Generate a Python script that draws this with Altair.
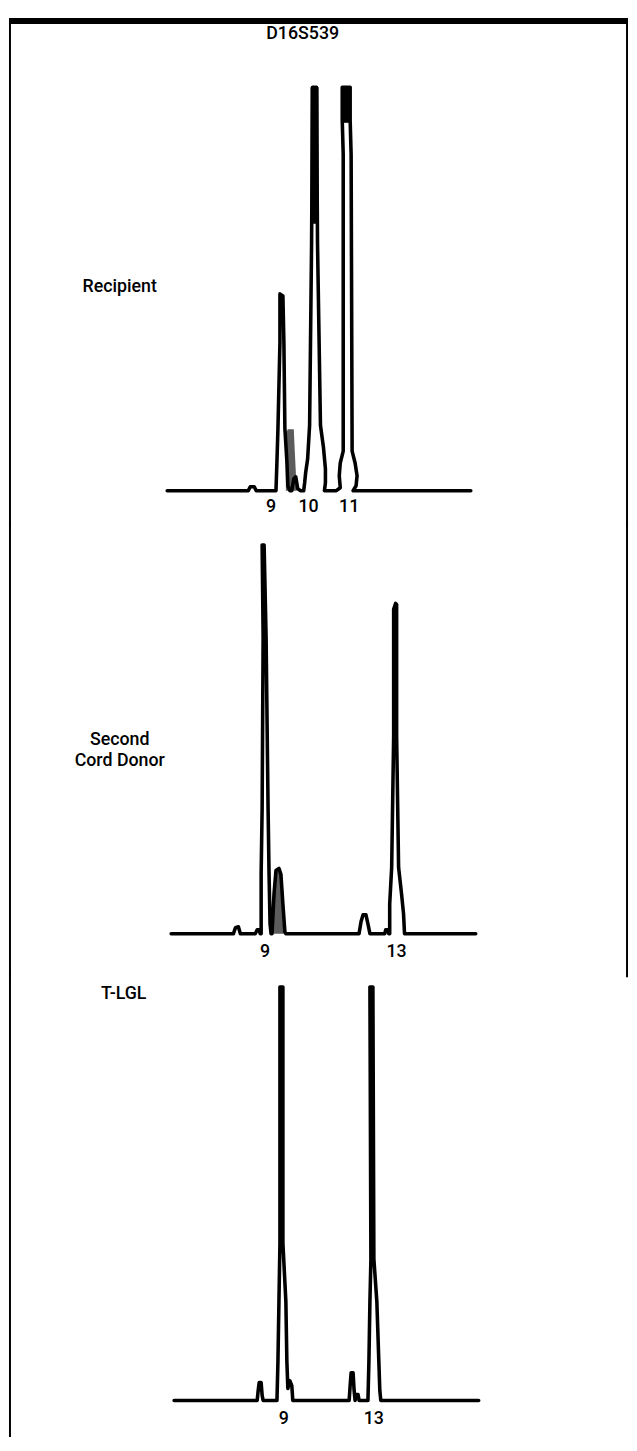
import altair as alt
import pandas as pd

FONT = "Roboto, DejaVu Sans Condensed, sans-serif"
FS = 18

# ---------------- data (x = scan position, y = signal height) ----------------
# Panel 1: Recipient
p1_x = [168, 250, 252, 256, 258,
        278, 279, 280, 282, 282, 285, 286, 287, 289, 290, 292,
        294, 296, 298, 300, 303,
        306, 307, 308, 310, 312, 314, 315, 319, 320, 323, 326, 328, 328, 327,
        339, 343, 342, 343, 346, 346, 345, 345, 353, 353, 354, 355, 358, 360, 359, 356,
        475]
p1_y = [0, 0, 4, 4, 0,
        0, 30, 63, 150, 199, 197, 150, 63, 30, 5, 0,
        0, 12, 14, 2, 0,
        0, 8, 18, 32, 66, 250, 408, 408, 250, 66, 44, 22, 8, 0,
        0, 3, 15, 28, 40, 340, 375, 408, 408, 375, 340, 40, 28, 15, 5, 0,
        0]
p1_gx = [288, 288, 290, 296, 297, 299]
p1_gy = [0, 58, 62, 62, 40, 0]
# solid (merged) upper parts of the off-scale peaks 10 and 11
p1_sx = [313, 344]
p1_sx2 = [321, 354]
p1_sy = [270, 372]
p1_sy2 = [408, 408]
p1_lab_x = [273, 311, 352]
p1_lab = ["9", "10", "11"]

# Panel 2: Second Cord Donor
p2_x = [172, 235, 237, 240, 242,
        257, 259, 261, 262,
        263, 263, 264, 265, 264, 266, 268, 270, 271, 272, 273,
        274, 276, 278, 281, 283, 285, 287, 288,
        362, 364, 366, 369, 371, 373,
        388, 389, 391, 392,
        393, 393, 395, 397, 397, 399, 400, 400, 402, 405, 407, 408,
        480]
p2_y = [0, 0, 6, 7, 0,
        0, 4, 4, 0,
        0, 60, 127, 300, 393, 393, 300, 127, 60, 10, 0,
        0, 40, 64, 66, 60, 30, 2, 0,
        0, 12, 19, 19, 10, 0,
        0, 4, 4, 0,
        0, 30, 67, 200, 328, 334, 333, 200, 67, 40, 20, 0,
        0]
p2_gx = [275, 276, 278, 281, 283, 285, 287]
p2_gy = [0, 40, 64, 66, 60, 30, 0]
p2_lab_x = [267, 400]
p2_lab = ["9", "13"]

# Panel 3: T-LGL
p3_x = [175, 259, 260, 261, 263, 264, 265,
        279, 280, 281, 282, 282, 285, 285, 288, 289, 290, 292, 294, 295,
        352, 353, 354, 356, 357, 358, 359, 361, 362,
        371, 372, 373, 374, 373, 376, 377, 380, 382, 383, 384,
        483]
p3_y = [0, 0, 10, 18, 18, 5, 0,
        0, 40, 100, 159, 418, 418, 159, 100, 40, 12, 20, 15, 0,
        0, 15, 28, 28, 10, 0, 6, 6, 0,
        0, 40, 100, 143, 418, 418, 143, 100, 40, 10, 0,
        0]
p3_lab_x = [286, 377]
p3_lab = ["9", "13"]

TITLE = "D16S539"
NAMES = [["Recipient"], ["Second", "Cord Donor"], ["T-LGL"]]

W = 626
XDOM = [8, 634]


def panel(tx, ty, gx, gy, lab_x, lab, name, name_pos, height, ydom,
          lab_off, top_bar=False, right_border=True, solid=None,
          ext_top=3, ext_bot=3):
    xs = alt.Scale(domain=XDOM)
    ys = alt.Scale(domain=ydom)
    X = alt.X("x:Q", scale=xs, axis=None)
    trace = pd.DataFrame({"x": tx, "y": ty, "i": list(range(len(tx)))})
    nm = pd.DataFrame({"t": ["a"]})
    layers = [
        alt.Chart(nm).mark_rule(color="black", strokeWidth=2).encode(
            x=alt.value(1), y=alt.value(-ext_top), y2=alt.value(height + ext_bot)
        )
    ]
    if right_border:
        layers.append(
            alt.Chart(nm).mark_rule(color="black", strokeWidth=2).encode(
                x=alt.value(W - 1), y=alt.value(-ext_top),
                y2=alt.value(height + ext_bot)
            )
        )
    if gx:
        gray = pd.DataFrame({"x": gx, "y": gy})
        layers.append(
            alt.Chart(gray).mark_area(color="#5c5c5c", opacity=1).encode(
                x=X, y=alt.Y("y:Q", scale=ys, axis=None), y2=alt.datum(0),
            )
        )
    if solid:
        sd = pd.DataFrame({"x": solid[0], "x2": solid[1],
                           "y": solid[2], "y2": solid[3]})
        layers.append(
            alt.Chart(sd).mark_rect(color="black").encode(
                x=X, x2="x2:Q", y=alt.Y("y:Q", scale=ys, axis=None), y2="y2:Q",
            )
        )
    layers.append(
        alt.Chart(trace).mark_line(color="black", strokeWidth=3.6,
                                   strokeJoin="round", strokeCap="round").encode(
            x=X, y=alt.Y("y:Q", scale=ys, axis=None), order="i:Q",
        )
    )
    labs = pd.DataFrame({"x": lab_x, "t": lab})
    layers.append(
        alt.Chart(labs).mark_text(font=FONT, fontSize=FS, fontWeight=500,
                                  color="black", baseline="middle",
                                  align="center").encode(
            x=X, y=alt.Y(datum=lab_off, scale=ys, axis=None), text="t:N",
        )
    )
    layers.append(
        alt.Chart(nm).mark_text(font=FONT, fontSize=FS, fontWeight=500,
                                color="black", baseline="middle",
                                align="center", lineHeight=21,
                                text=name).encode(
            x=alt.value(name_pos[0]), y=alt.value(name_pos[1])
        )
    )
    if top_bar:
        layers.append(
            alt.Chart(nm).mark_rect(color="black").encode(
                x=alt.value(0), x2=alt.value(W), y=alt.value(0), y2=alt.value(6)
            )
        )
        layers.append(
            alt.Chart(nm).mark_text(font=FONT, fontSize=FS, fontWeight=500,
                                    color="black", baseline="middle",
                                    align="center", text=TITLE).encode(
                x=alt.value(297), y=alt.value(16)
            )
        )
    return alt.layer(*layers).properties(
        width=W, height=height,
        view=alt.ViewBackground(stroke="transparent"),
    )


c1 = panel(p1_x, p1_y, p1_gx, p1_gy, p1_lab_x, p1_lab, NAMES[0], (112, 272),
           512, [-34, 478], -17, top_bar=True,
           solid=(p1_sx, p1_sx2, p1_sy, p1_sy2), ext_top=0)
c2 = panel(p2_x, p2_y, p2_gx, p2_gy, p2_lab_x, p2_lab, NAMES[1], (112, 218),
           455, [-41, 414], -19)
c3 = panel(p3_x, p3_y, [], [], p3_lab_x, p3_lab, NAMES[2], (116, 20),
           468, [-37, 431], -19, right_border=False, ext_bot=0)

chart = alt.vconcat(c1, c2, c3, spacing=0, bounds="flush").properties(
    padding=0
).configure_view(stroke="transparent").configure(background="white")

chart.save("out.html", embed_options={"renderer": "svg", "actions": False})
